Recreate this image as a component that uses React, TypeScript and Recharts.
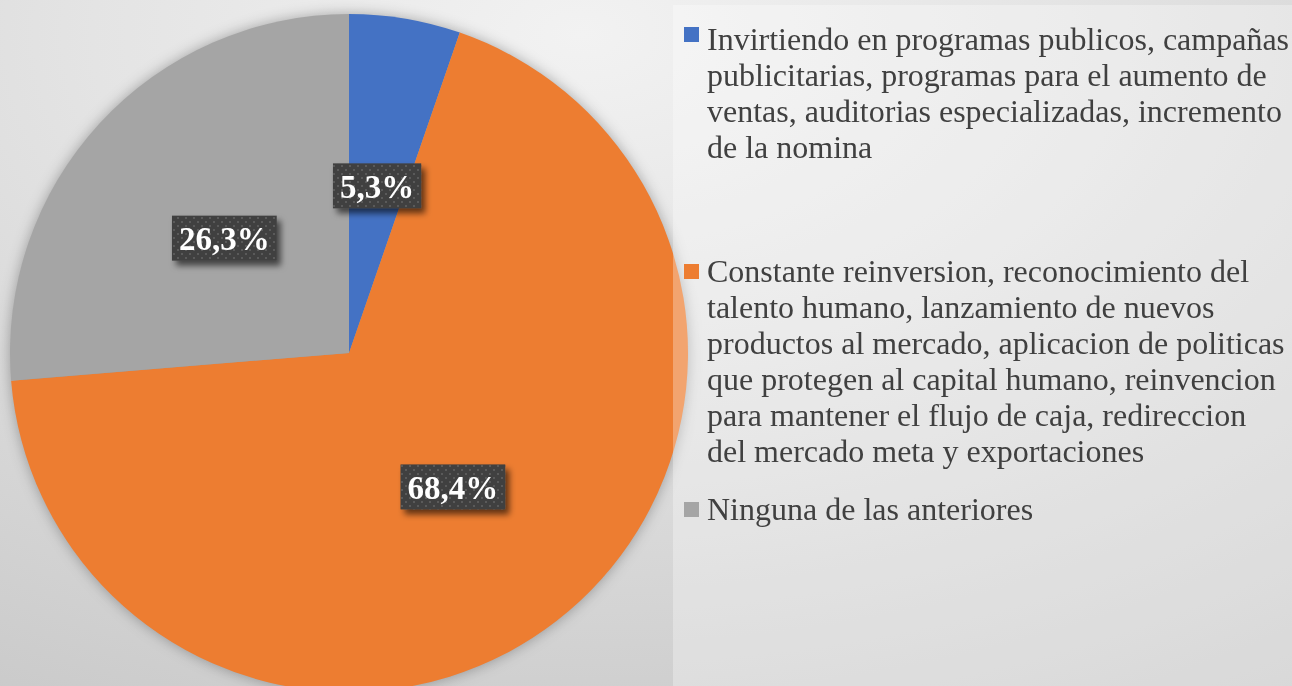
import React from 'react';
import { PieChart, Pie, Cell, Legend } from 'recharts';

const categories = [
  'Invirtiendo en programas publicos, campañas\npublicitarias, programas para el aumento de\nventas, auditorias especializadas, incremento\nde la nomina',
  'Constante reinversion, reconocimiento del\ntalento humano, lanzamiento de nuevos\nproductos al mercado, aplicacion de politicas\nque protegen al capital humano, reinvencion\npara mantener el flujo de caja, redireccion\ndel mercado meta y exportaciones',
  'Ninguna de las anteriores',
];
const values = [5.3, 68.4, 26.3];
const colors = ['#4472c4', '#ed7d31', '#a5a5a5'];
const legendTops = [16, 248, 486];
const squareOffsets = [6, 11, 11];

const data = categories.map((name, i) => ({ name, value: values[i] }));

const FONT = '"Liberation Serif", "Times New Roman", serif';
const LABEL_SIZE = 33;

const charW = (c: string) =>
  (c === ',' ? 0.25 : c === '%' ? 1 : 0.5) * LABEL_SIZE;

const renderLabel = (props: any) => {
  const { cx, cy, midAngle, outerRadius, value } = props;
  const RAD = Math.PI / 180;
  const r = outerRadius * 0.5;
  const x = cx + r * Math.cos(-midAngle * RAD);
  const y = cy + r * Math.sin(-midAngle * RAD);
  const text = Number(value).toFixed(1).replace('.', ',') + '%';
  const tw = text.split('').reduce((s, c) => s + charW(c), 0);
  const w = tw + 14;
  const h = 45;
  return (
    <g>
      <rect x={x - w / 2} y={y - h / 2} width={w} height={h} fill="#404040" filter="url(#lblShadow)" />
      <rect x={x - w / 2} y={y - h / 2} width={w} height={h} fill="url(#dots)" />
      <text
        x={x}
        y={y + 1}
        textAnchor="middle"
        dominantBaseline="central"
        fill="#ffffff"
        fontFamily={FONT}
        fontWeight="bold"
        fontSize={LABEL_SIZE}
      >
        {text}
      </text>
    </g>
  );
};

const renderLegend = () => (
  <div
    style={{
      position: 'relative',
      width: '100%',
      height: '100%',
      background: 'rgba(255,255,255,0.3)',
      fontFamily: FONT,
      color: '#404040',
    }}
  >
    {data.map((d, i) => (
      <React.Fragment key={i}>
        <div
          style={{
            position: 'absolute',
            left: 11,
            top: legendTops[i] + squareOffsets[i],
            width: 15,
            height: 15,
            background: colors[i],
          }}
        />
        <div
          style={{
            position: 'absolute',
            left: 34,
            top: legendTops[i],
            fontSize: 32,
            lineHeight: '36px',
            whiteSpace: 'pre',
          }}
        >
          {d.name}
        </div>
      </React.Fragment>
    ))}
  </div>
);

export default function App() {
  return (
    <div
      style={{
        position: 'fixed',
        left: 0,
        top: 0,
        width: 1292,
        height: 686,
        overflow: 'hidden',
        background:
          'radial-gradient(ellipse 105% 120% at 45% 5%, #f2f2f2 0%, #e4e4e4 36%, #d3d3d3 72%, #c6c6c6 100%)',
      }}
    >
      <PieChart width={1292} height={686} margin={{ top: 0, right: 0, bottom: 0, left: 0 }}>
        <defs>
          <filter id="pieShadow" x="-20%" y="-20%" width="140%" height="140%">
            <feGaussianBlur stdDeviation="7" />
          </filter>
          <filter id="lblShadow" x="-30%" y="-30%" width="160%" height="160%">
            <feDropShadow dx="4" dy="5" stdDeviation="3" floodColor="#000" floodOpacity="0.6" />
          </filter>
          <pattern id="dots" width="8" height="8" patternUnits="userSpaceOnUse">
            <rect x="1" y="1" width="2" height="2" fill="#5a5a5a" />
            <rect x="5" y="5" width="2" height="2" fill="#5a5a5a" />
          </pattern>
        </defs>
        <Pie
          data={[{ name: 'shadow', value: 1 }]}
          dataKey="value"
          cx={349}
          cy={353}
          outerRadius={339}
          fill="#000"
          fillOpacity={0.3}
          stroke="none"
          legendType="none"
          filter="url(#pieShadow)"
          isAnimationActive={false}
        />
        <Pie
          data={data}
          dataKey="value"
          nameKey="name"
          cx={349}
          cy={353}
          outerRadius={339}
          startAngle={90}
          endAngle={-270}
          stroke="none"
          label={renderLabel}
          labelLine={false}
          isAnimationActive={false}
        >
          {data.map((d, i) => (
            <Cell key={i} fill={colors[i]} />
          ))}
        </Pie>
        <Legend
          layout="vertical"
          align="right"
          verticalAlign="middle"
          content={renderLegend}
          wrapperStyle={{ left: 673, top: 5, width: 619, height: 681 }}
        />
      </PieChart>
    </div>
  );
}
